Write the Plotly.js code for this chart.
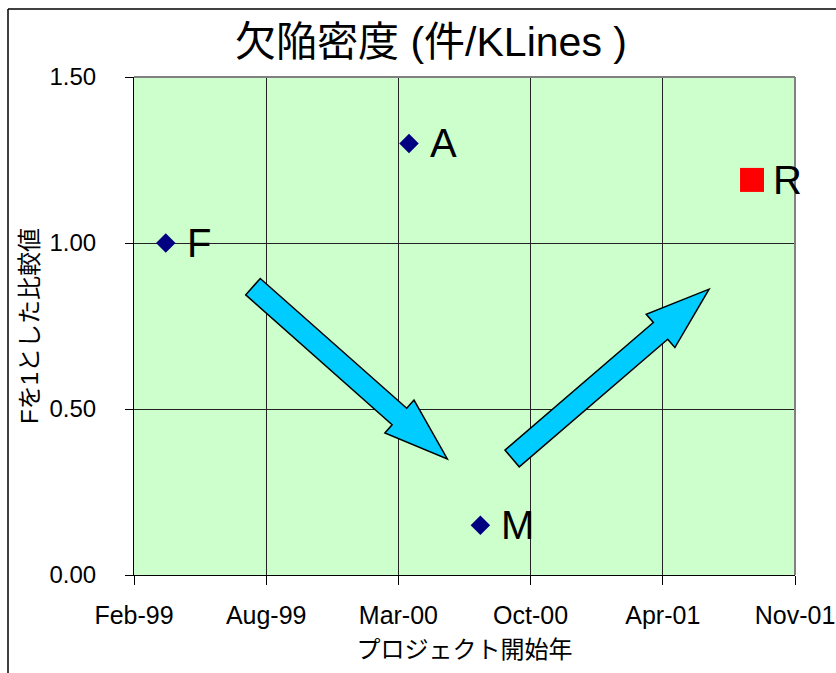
<!DOCTYPE html>
<html>
<head>
<meta charset="utf-8">
<script src="https://cdn.plot.ly/plotly-3.0.1.min.js"></script>
<style>
  html, body { margin: 0; padding: 0; background: #fff; }
  #chart { width: 836px; height: 673px; }
</style>
</head>
<body>
<div id="chart"></div>
<script>
// Defect density per project, relative to project F, by project start date
const projects   = ['F', 'A', 'M', 'R'];
const startDates = ['1999-03-29', '2000-03-31', '2000-07-17', '2001-09-01'];
const relDensity = [1.00, 1.30, 0.15, 1.19];

// Axis ticks (date axis steps of 200 days)
const tickDates = ['1999-02-09', '1999-08-28', '2000-03-15', '2000-10-01', '2001-04-19', '2001-11-05'];
const yTicks = [0, 0.5, 1.0, 1.5];

// Page geometry
const W = 836, H = 673;
const M = { l: 134, r: 41, t: 77, b: 98 };
const PW = W - M.l - M.r, PH = H - M.t - M.b;
const LATIN = 'Liberation Sans, Arial, Noto Sans CJK JP, sans-serif';
const CJK = 'Liberation Sans, Noto Sans CJK JP, sans-serif';

// Highlighted (latest) project
const highlight = 'R';
const markerSymbol = projects.map(p => p === highlight ? 'square' : 'diamond');
const markerColor  = projects.map(p => p === highlight ? '#ff0000' : '#000080');
const markerSize   = projects.map(p => p === highlight ? 24 : 15);

// Trend arrows, given as tail/tip in plot-area fractions
const trendArrows = [
  { from: [0.180, 0.579], to: [0.474, 0.233] },
  { from: [0.572, 0.234], to: [0.870, 0.574] }
];

function blockArrow(a, shaft, head, headLen) {
  const x0 = a.from[0] * PW, y0 = (1 - a.from[1]) * PH;
  const x1 = a.to[0] * PW,   y1 = (1 - a.to[1]) * PH;
  const dx = x1 - x0, dy = y1 - y0, L = Math.hypot(dx, dy);
  const ux = dx / L, uy = dy / L, nx = -uy, ny = ux;
  const bx = x1 - ux * headLen, by = y1 - uy * headLen;
  const pts = [
    [x0 + nx * shaft / 2, y0 + ny * shaft / 2],
    [bx + nx * shaft / 2, by + ny * shaft / 2],
    [bx + nx * head / 2,  by + ny * head / 2],
    [x1, y1],
    [bx - nx * head / 2,  by - ny * head / 2],
    [bx - nx * shaft / 2, by - ny * shaft / 2],
    [x0 - nx * shaft / 2, y0 - ny * shaft / 2]
  ];
  return 'M' + pts.map(p => (p[0] / PW).toFixed(4) + ',' + (1 - p[1] / PH).toFixed(4)).join(' L') + ' Z';
}

// pixel -> paper helpers for the outer frame
const px2x = px => (px - M.l) / PW;
const py2y = py => 1 - (py - M.t) / PH;

const shapes = [
  // plot area border (top / right)
  { type: 'line', xref: 'paper', yref: 'paper', x0: 0, x1: 1, y0: 1, y1: 1, line: { color: '#808080', width: 2 }, layer: 'above' },
  { type: 'line', xref: 'paper', yref: 'paper', x0: 1, x1: 1, y0: 0, y1: 1, line: { color: '#808080', width: 2 }, layer: 'above' },
  // chart frame
  { type: 'line', xref: 'paper', yref: 'paper', x0: px2x(8), x1: px2x(8), y0: py2y(9), y1: py2y(H + 5), line: { color: '#000', width: 1.5 } },
  { type: 'line', xref: 'paper', yref: 'paper', x0: px2x(8), x1: px2x(W + 5), y0: py2y(9), y1: py2y(9), line: { color: '#000', width: 1.5 } }
];
trendArrows.forEach(a => shapes.push({
  type: 'path', xref: 'paper', yref: 'paper', path: blockArrow(a, 22, 44, 64),
  fillcolor: '#00ccff', line: { color: '#000', width: 1.5 }, layer: 'above'
}));

const annotations = projects.map((p, i) => ({
  x: startDates[i], y: relDensity[i], xref: 'x', yref: 'y',
  text: p, showarrow: false, xanchor: 'left', yanchor: 'middle',
  xshift: 19, yshift: 0,
  font: { family: LATIN, size: 40, color: '#000' }
}));

const trace = {
  type: 'scatter', mode: 'markers',
  x: startDates, y: relDensity, text: projects,
  marker: { symbol: markerSymbol, color: markerColor, size: markerSize, opacity: 1, line: { width: 0 } },
  hoverinfo: 'text+y', cliponaxis: false
};

const layout = {
  width: W, height: H,
  margin: { l: M.l, r: M.r, t: M.t, b: M.b, pad: 0 },
  paper_bgcolor: '#ffffff', plot_bgcolor: '#ccffcc',
  showlegend: false,
  title: {
    text: '欠陥密度 (件/KLines )',
    font: { family: CJK, size: 41, color: '#000' },
    xref: 'container', x: 431 / W, xanchor: 'center',
    yref: 'container', y: 1 - 42 / H, yanchor: 'middle'
  },
  xaxis: {
    type: 'date', range: [tickDates[0], tickDates[tickDates.length - 1]],
    tickvals: tickDates, tickformat: '%b-%y',
    ticks: 'outside', ticklen: 9, tickwidth: 1, tickcolor: '#000',
    showline: true, linecolor: '#000', linewidth: 1,
    showgrid: true, gridcolor: '#222', gridwidth: 1, zeroline: false,
    tickfont: { family: LATIN, size: 25, color: '#000' },
    ticklabelstandoff: 9, ticklabeloverflow: 'allow',
    title: { text: 'プロジェクト開始年', font: { family: CJK, size: 24, color: '#000' }, standoff: 13 },
    fixedrange: true
  },
  yaxis: {
    range: [0, 1.5], tickvals: yTicks, tickformat: '.2f',
    ticks: 'outside', ticklen: 8, tickwidth: 1, tickcolor: '#000',
    showline: true, linecolor: '#000', linewidth: 1,
    showgrid: true, gridcolor: '#222', gridwidth: 1, zeroline: false,
    tickfont: { family: LATIN, size: 24, color: '#000' },
    ticklabelstandoff: 24,
    title: { text: 'Fを1とした比較値', font: { family: CJK, size: 24, color: '#000' }, standoff: 4 },
    fixedrange: true
  },
  shapes: shapes,
  annotations: annotations
};

Plotly.newPlot('chart', [trace], layout, { displayModeBar: false, staticPlot: true });
</script>
</body>
</html>
